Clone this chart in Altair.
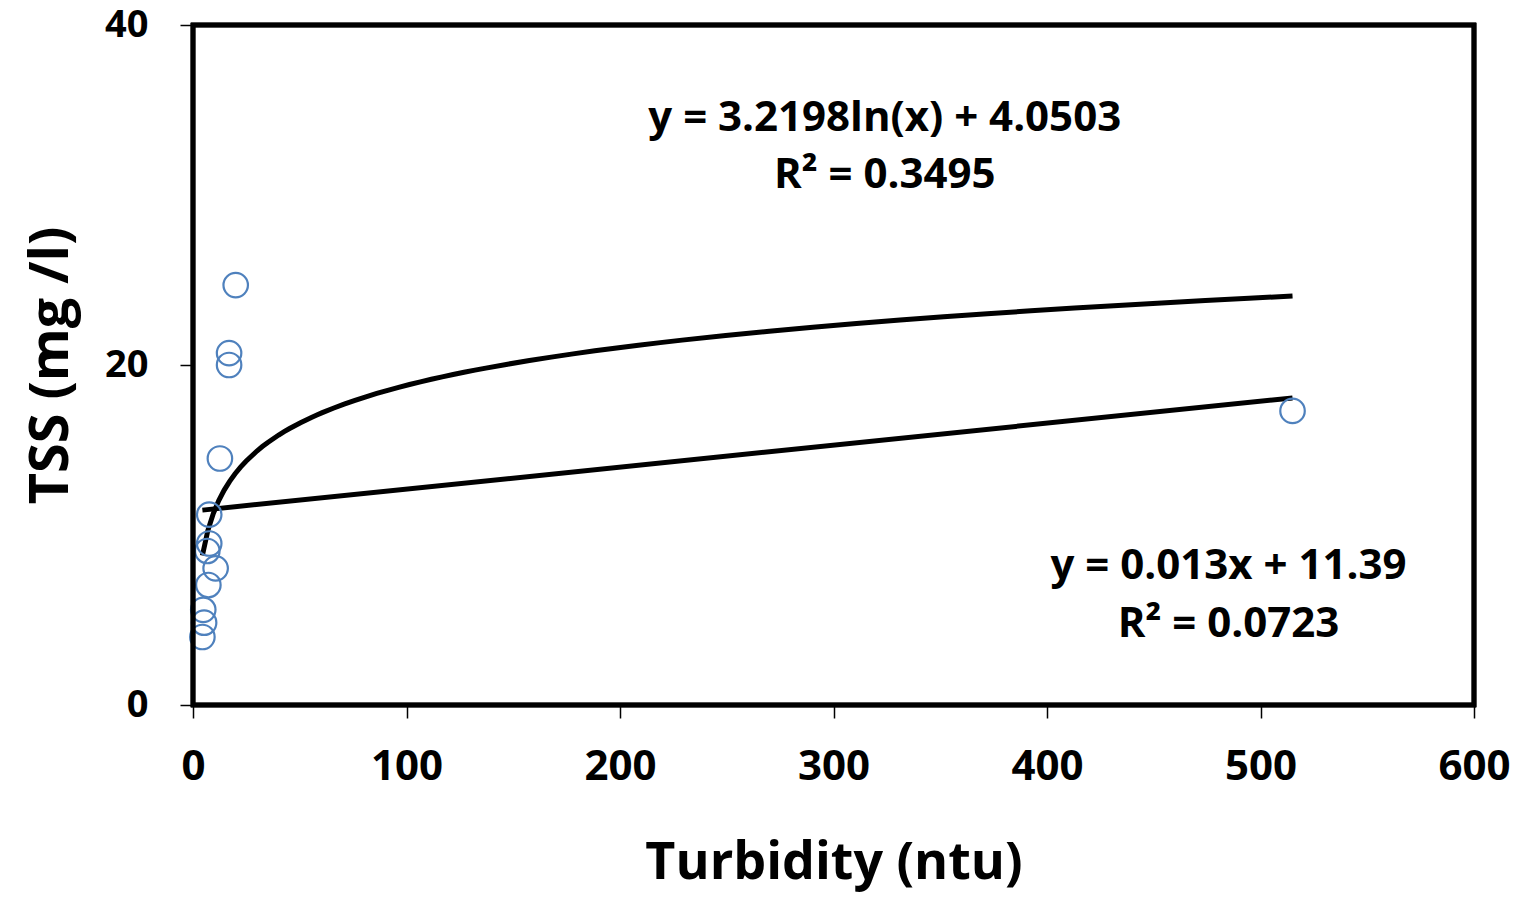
import altair as alt
import pandas as pd

turbidity = [20.0, 16.9, 16.9, 12.6, 7.6, 7.6, 6.7, 10.6, 7.2, 4.8, 5.2, 4.4, 515.0]
tss = [24.7, 20.7, 20.0, 14.5, 11.2, 9.5, 9.06, 8.04, 7.06, 5.6, 4.84, 4.0, 17.3]

ann_text = ["y = 3.2198ln(x) + 4.0503", "R² = 0.3495", "y = 0.013x + 11.39", "R² = 0.0723"]
ann_x = [324, 324, 485, 485]
ann_y = [34.55, 31.15, 8.15, 4.75]

df = pd.DataFrame({"x": turbidity, "y": tss})
ann = pd.DataFrame({"t": ann_text, "x": ann_x, "y": ann_y})

FONT = "Open Sans"
W, H = 1281, 680

xs = alt.Scale(domain=[0, 600], nice=False, zero=False)
ys = alt.Scale(domain=[0, 40], nice=False)

xaxis = alt.Axis(values=[0, 100, 200, 300, 400, 500, 600], title="Turbidity (ntu)",
                 grid=False, domain=False, tickColor="black",
                 tickWidth=1.5, tickSize=13, labelFont=FONT, labelFontSize=42,
                 labelFontWeight="bold", labelColor="black", labelPadding=28,
                 titleFont=FONT, titleFontSize=52, titleFontWeight="bold",
                 titleColor="black", titlePadding=50, labelFlush=False)
yaxis = alt.Axis(values=[0, 20, 40], title="TSS (mg /l)",
                 grid=False, domain=False, tickColor="black",
                 tickWidth=1.5, tickSize=13, labelFont=FONT, labelFontSize=38,
                 labelFontWeight="bold", labelColor="black", labelPadding=32,
                 titleFont=FONT, titleFontSize=54, titleFontWeight="bold",
                 titleColor="black", titlePadding=26, labelFlush=False)

base = alt.Chart(df)

points = base.mark_point(shape="circle", size=600, filled=False, color="#4F81BD",
                         strokeWidth=2.2, opacity=1).encode(
    x=alt.X("x:Q", scale=xs, axis=xaxis),
    y=alt.Y("y:Q", scale=ys, axis=yaxis),
)

lin = base.transform_regression("x", "y", method="linear").mark_line(
    color="black", strokeWidth=5).encode(x=alt.X("x:Q", scale=xs), y=alt.Y("y:Q", scale=ys))

logf = base.transform_regression("x", "y", method="log").transform_filter(
    "datum.x > 0").mark_line(color="black", strokeWidth=5).encode(
    x=alt.X("x:Q", scale=xs), y=alt.Y("y:Q", scale=ys))

text = alt.Chart(ann).mark_text(font=FONT, fontSize=42, fontWeight="bold",
                                color="black", align="center", baseline="middle").encode(
    x=alt.X("x:Q", scale=xs), y=alt.Y("y:Q", scale=ys), text="t:N")

frame = alt.Chart(ann).mark_rect(filled=False, stroke="black", strokeWidth=4.5).encode(
    x=alt.value(0), x2=alt.value(W), y=alt.value(0), y2=alt.value(H))

chart = alt.layer(lin, logf, points, text, frame).properties(
    width=W, height=H,
    autosize=alt.AutoSizeParams(type="none"),
    padding={"left": 193, "top": 25, "right": 55, "bottom": 194},
).configure_view(stroke=None).configure(background="white")

chart.save("out.html", embed_options={"renderer": "svg", "actions": False})
